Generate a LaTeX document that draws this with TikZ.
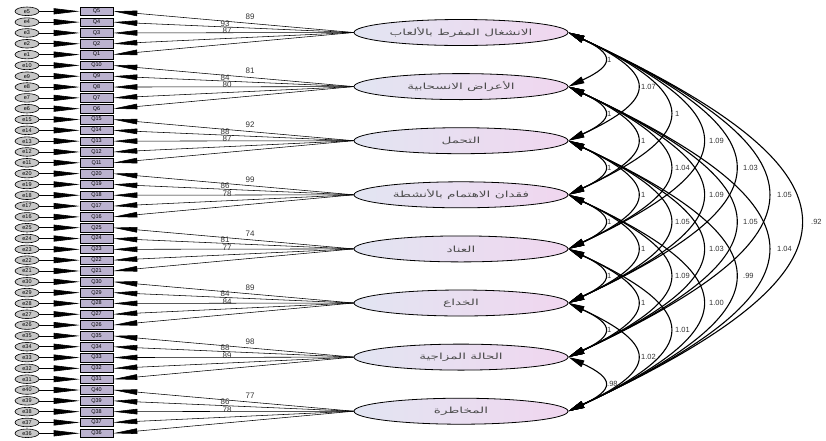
\documentclass[tikz,border=0pt]{standalone}
\usepackage{fontspec}
\setmainfont{Liberation Sans}
\newfontfamily\arabicfont[Script=Arabic]{DejaVu Sans}
\TeXXeTstate=1
\usetikzlibrary{arrows.meta,shapes.geometric}
\definecolor{rectfill}{HTML}{BBB2CF}
\definecolor{errfill}{HTML}{C8C8C8}
\definecolor{fl}{HTML}{E2E5F2}
\definecolor{fr}{HTML}{F0D6EF}
\definecolor{lbl}{HTML}{333333}
\begin{document}
\begin{tikzpicture}[x=1pt,y=1pt,
  factor/.style={ellipse,draw=black,line width=0.8pt,left color=fl,right color=fr,minimum width=214pt,minimum height=26pt,inner sep=0pt,font=\arabicfont\fontsize{8.5}{9}\selectfont,text=black!70},
  item/.style={rectangle,draw=black,line width=0.6pt,fill=rectfill,minimum width=33pt,minimum height=8.6pt,inner sep=0pt,font=\fontsize{5.5}{5.5}\selectfont},
  err/.style={ellipse,draw=black,line width=0.6pt,fill=errfill,minimum width=24pt,minimum height=8.6pt,inner sep=0pt,font=\fontsize{5.5}{5.5}\selectfont},
  errarr/.style={line width=0.6pt,-{Triangle[length=26pt,width=6pt]}},
  loadarr/.style={line width=0.55pt,-{Triangle[length=24pt,width=5.5pt]}},
  covarr/.style={line width=1.1pt,{Triangle[length=16pt,width=7pt]}-{Triangle[length=16pt,width=7pt]}},
  cl/.style={anchor=west,font=\fontsize{7.5}{7.5}\selectfont,text=lbl,inner sep=0pt},
  ll/.style={font=\fontsize{8}{8}\selectfont,text=lbl,inner sep=0pt}]
\useasboundingbox (0,0) rectangle (826,-440);
% factors
\foreach \nm [count=\g] in {الانشغال المفرط بالألعاب,الأعراض الانسحابية,التحمل,فقدان الاهتمام بالأنشطة,العناد,الخداع,الحالة المزاجية,المخاطرة}{
  \node[factor] (F\g) at (461,{-(32.5+54.1*(\g-1))}) {\scalebox{1.6}[1]{\beginR\nm\endR}};
}
% indicators and errors
\foreach \k in {0,...,39}{
  \pgfmathtruncatemacro\g{int(\k/5)+1}
  \pgfmathtruncatemacro\e{5*\g-mod(\k,5)}
  \node[item] (I\k) at (96.5,{-(11.3+10.82*\k)}) {Q\e};
  \node[err] (E\k) at (27,{-(11.3+10.82*\k)}) {e\e};
  \draw[errarr] (E\k.east) -- (I\k.west);
  \draw[loadarr] (F\g.west) -- (I\k.east);
}
% covariances
\foreach \i in {1,...,7}{
  \pgfmathtruncatemacro\s{\i+1}
  \foreach \j in {\s,...,8}{
    \pgfmathsetmacro\L{2.278+0.139/(\j-\i)}
    \draw[covarr] (F\i.east) to[out=-25,in=25,looseness=\L] (F\j.east);
  }
}
\foreach \i/\j/\t in {1/2/1,2/3/1,3/4/1,4/5/1,5/6/1,6/7/1,7/8/.98,
  1/3/1.07,2/4/1,3/5/1,4/6/1,5/7/1,6/8/1.02,
  1/4/1,2/5/1.04,3/6/1.05,4/7/1.09,5/8/1.01,
  1/5/1.09,2/6/1.09,3/7/1.03,4/8/1.00,
  1/6/1.03,2/7/1.05,3/8/.99,
  1/7/1.05,2/8/1.04,
  1/8/.92}{
  \node[cl] at ({607+34*(\j-\i-1)},{-(32.5+54.1*((\i+\j)/2-1))}) {\t};
}
% loadings labels
\foreach \g/\a/\b/\c in {1/89/93/87,2/81/84/80,3/92/88/87,4/99/86/78,5/74/81/77,6/89/84/84,7/98/88/89,8/77/86/78}{
  \node[ll] at (250,{-(32.5+54.1*(\g-1)-15.5)}) {\a};
  \node[ll] at (225,{-(32.5+54.1*(\g-1)-9)}) {\b};
  \node[ll] at (227,{-(32.5+54.1*(\g-1)-1.5)}) {\c};
}
\end{tikzpicture}
\end{document}
